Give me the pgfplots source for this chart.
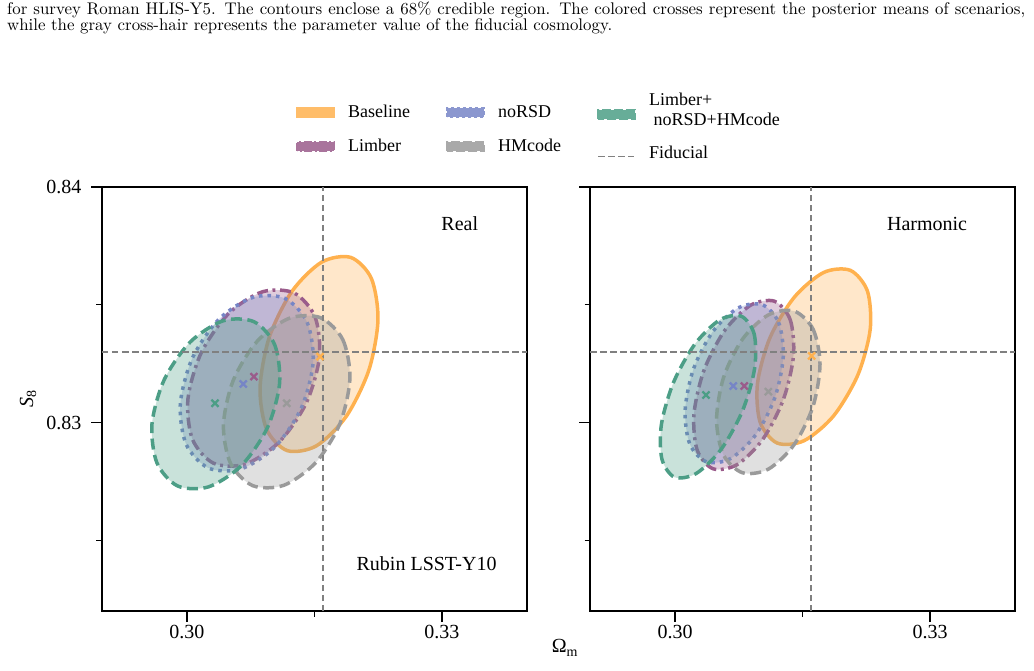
\documentclass[border=0pt]{standalone}
\usepackage{fontspec}
\usepackage{pgfplots}
\pgfplotsset{compat=1.18}
\newfontfamily\plotfont{Liberation Serif}
\newfontfamily\capfont{lmroman10-regular}[Extension=.otf]

\definecolor{cOrange}{HTML}{FFB14E}
\definecolor{cPurple}{HTML}{9A5B8B}
\definecolor{cBlue}{HTML}{7685C6}
\definecolor{cGray}{HTML}{9A9A9A}
\definecolor{cGreen}{HTML}{4C9E86}
\definecolor{cFid}{HTML}{808080}

\tikzset{annot/.style={font=\plotfont\fontsize{20}{24}\selectfont, inner sep=0pt}}

\pgfplotsset{
  panel/.style={
    width=425pt, height=424pt, scale only axis,
    xmin=0.29, xmax=0.34, ymin=0.822, ymax=0.84,
    xtick={0.30,0.33}, xticklabels={0.30,0.33}, minor xtick={0.315},
    ytick={0.83,0.84}, yticklabels={0.83,0.84}, minor ytick={0.825,0.835},
    tick align=outside, tick pos=left,
    major tick length=11pt, minor tick length=5.5pt,
    axis line style={line width=1.5pt},
    tick style={black, line width=1.3pt},
    ticklabel style={font=\plotfont\fontsize{20}{24}\selectfont},
    yticklabel style={xshift=-6pt},
  },
  contour/.style={smooth cycle, line width=3.5pt, fill opacity=0.3, forget plot},
  cBase/.style={contour, draw=cOrange, fill=cOrange},
  cLimb/.style={contour, draw=cPurple, fill=cPurple, dash pattern=on 11pt off 4.5pt on 3pt off 4.5pt},
  cNoRSD/.style={contour, draw=cBlue, fill=cBlue, dash pattern=on 3.5pt off 5pt},
  cHM/.style={contour, draw=cGray, fill=cGray, dash pattern=on 11pt off 5.5pt},
  cAll/.style={contour, draw=cGreen, fill=cGreen, dash pattern=on 11pt off 5.5pt},
  mean/.style={only marks, mark=x, mark size=5pt, line width=2.3pt, forget plot},
  fid/.style={cFid, line width=1.5pt, dash pattern=on 6.5pt off 3.5pt, forget plot},
}

\begin{document}
\begin{tikzpicture}
\useasboundingbox (0pt,0pt) rectangle (1034pt,-670pt);

% caption lines
\node[anchor=base west, inner sep=0pt] at (7pt,-14.5pt)
  {\capfont\fontsize{16.85}{16}\selectfont\makebox[1018pt][s]{for survey Roman HLIS-Y5. The contours enclose a 68\% credible region. The colored crosses represent the posterior means of scenarios,}};
\node[anchor=base west, inner sep=0pt] at (7pt,-30pt)
  {\capfont\fontsize{16.85}{16}\selectfont while the gray cross-hair represents the parameter value of the fiducial cosmology.};

% ---------------- Real space ----------------
\begin{axis}[panel, at={(102pt,-187pt)}, anchor=north west,
  ylabel={{\itshape S}\textsubscript{8}},
  ylabel style={at={(axis description cs:-0.174,0.5)}, anchor=center,
    font=\plotfont\fontsize{20}{24}\selectfont},
  xlabel={Ω\textsubscript{m}},
  xlabel style={at={(axis description cs:1.0894,-0.087)}, anchor=center,
    font=\plotfont\fontsize{20}{24}\selectfont},
  legend columns=3, legend cell align=left,
  legend style={at={(axis description cs:0.4565,1.1977)}, anchor=north west,
    draw=none, fill=none, inner sep=0pt,
    font=\plotfont\fontsize{18}{20}\selectfont,
    /tikz/every odd column/.append style={column sep=11pt},
    /tikz/every even column/.append style={column sep=34pt},
    /tikz/row sep=16pt},
]
\addplot[cBase] coordinates {(0.31927,0.83701) (0.32169,0.83612) (0.32247,0.83436) (0.32139,0.83222) (0.31873,0.83026) (0.31522,0.82901) (0.31179,0.82881) (0.30937,0.82971) (0.30859,0.83146) (0.30967,0.83361) (0.31233,0.83556) (0.31584,0.83681)};
\addplot[cLimb] coordinates {(0.31260,0.83550) (0.31506,0.83449) (0.31558,0.83278) (0.31403,0.83083) (0.31083,0.82917) (0.30682,0.82823) (0.30309,0.82828) (0.30064,0.82929) (0.30011,0.83100) (0.30166,0.83295) (0.30487,0.83462) (0.30887,0.83555)};
\addplot[cNoRSD] coordinates {(0.31153,0.83527) (0.31413,0.83426) (0.31484,0.83256) (0.31345,0.83062) (0.31034,0.82896) (0.30634,0.82803) (0.30252,0.82807) (0.29991,0.82907) (0.29921,0.83077) (0.30060,0.83271) (0.30371,0.83437) (0.30771,0.83531)};
\addplot[cHM] coordinates {(0.31572,0.83445) (0.31833,0.83352) (0.31917,0.83188) (0.31801,0.82997) (0.31517,0.82831) (0.31141,0.82734) (0.30774,0.82732) (0.30513,0.82826) (0.30429,0.82990) (0.30545,0.83180) (0.30828,0.83346) (0.31205,0.83443)};
\addplot[cAll] coordinates {(0.30789,0.83428) (0.31032,0.83330) (0.31089,0.83165) (0.30946,0.82978) (0.30639,0.82817) (0.30253,0.82727) (0.29889,0.82731) (0.29646,0.82829) (0.29588,0.82994) (0.29732,0.83182) (0.30038,0.83342) (0.30425,0.83432)};
% posterior means
\addplot[mean, cOrange] coordinates {(0.31565,0.83280)};
\addplot[mean, cPurple] coordinates {(0.30788,0.83195)};
\addplot[mean, cBlue]   coordinates {(0.30662,0.83164)};
\addplot[mean, cGray]   coordinates {(0.31173,0.83082)};
\addplot[mean, cGreen]  coordinates {(0.30329,0.83082)};
% fiducial cross-hair
\addplot[fid] coordinates {(0.3160,0.822) (0.3160,0.84)};
\addplot[fid] coordinates {(0.29,0.8330) (0.34,0.8330)};

\node[annot, anchor=base east] at (axis description cs:0.8854,0.8969) {Real};
\node[annot, anchor=base east] at (axis description cs:0.9287,0.0950) {Rubin LSST-Y10};

% legend
\addlegendimage{legend image code/.code={\draw[draw=cOrange!85!white, fill=cOrange!85!white, line width=2.5pt] (1.25pt,-4.25pt) rectangle (37.75pt,4.25pt);}}
\addlegendentry{Baseline}
\addlegendimage{legend image code/.code={\draw[draw=cBlue!85!white, fill=cBlue!85!white, line width=2.5pt, dash pattern=on 3.5pt off 2.5pt] (1.25pt,-4.25pt) rectangle (37.75pt,4.25pt);}}
\addlegendentry{noRSD}
\addlegendimage{legend image code/.code={\draw[draw=cGreen!85!white, fill=cGreen!85!white, line width=2.5pt, dash pattern=on 9pt off 3pt] (1.25pt,-6.25pt) rectangle (37.75pt,2.25pt);}}
\addlegendentry{\smash{\raisebox{6pt}{\begin{tabular}[t]{@{}l@{}}Limber+\\\ noRSD+HMcode\end{tabular}}}}
\addlegendimage{legend image code/.code={\draw[draw=cPurple!85!white, fill=cPurple!85!white, line width=2.5pt, dash pattern=on 8pt off 2.5pt on 2pt off 2.5pt] (1.25pt,-4.25pt) rectangle (37.75pt,4.25pt);}}
\addlegendentry{Limber}
\addlegendimage{legend image code/.code={\draw[draw=cGray!85!white, fill=cGray!85!white, line width=2.5pt, dash pattern=on 9pt off 3pt] (1.25pt,-4.25pt) rectangle (37.75pt,4.25pt);}}
\addlegendentry{HMcode}
\addlegendimage{legend image code/.code={\draw[cFid, line width=1.5pt, dash pattern=on 6.5pt off 3.5pt] (1pt,-10pt) -- (37pt,-10pt);}}
\addlegendentry{\smash{\raisebox{-13pt}{Fiducial}}}
\end{axis}

% ---------------- Harmonic space ----------------
\begin{axis}[panel, at={(590pt,-187pt)}, anchor=north west, yticklabels={,}]
\addplot[cBase] coordinates {(0.32064,0.83646) (0.32265,0.83557) (0.32296,0.83394) (0.32150,0.83201) (0.31865,0.83028) (0.31518,0.82923) (0.31202,0.82913) (0.31001,0.83002) (0.30970,0.83165) (0.31116,0.83359) (0.31401,0.83531) (0.31748,0.83637)};
\addplot[cLimb] coordinates {(0.31171,0.83515) (0.31356,0.83436) (0.31394,0.83284) (0.31275,0.83098) (0.31031,0.82928) (0.30728,0.82821) (0.30446,0.82804) (0.30261,0.82883) (0.30223,0.83036) (0.30341,0.83222) (0.30585,0.83391) (0.30889,0.83498)};
\addplot[cNoRSD] coordinates {(0.31023,0.83501) (0.31218,0.83426) (0.31274,0.83281) (0.31175,0.83106) (0.30948,0.82947) (0.30653,0.82847) (0.30371,0.82833) (0.30175,0.82908) (0.30119,0.83052) (0.30218,0.83228) (0.30445,0.83386) (0.30740,0.83486)};
\addplot[cHM] coordinates {(0.31403,0.83473) (0.31625,0.83396) (0.31706,0.83248) (0.31624,0.83069) (0.31401,0.82906) (0.31097,0.82802) (0.30793,0.82787) (0.30570,0.82863) (0.30489,0.83011) (0.30571,0.83191) (0.30794,0.83354) (0.31098,0.83457)};
\addplot[cAll] coordinates {(0.30782,0.83451) (0.30932,0.83375) (0.30936,0.83228) (0.30793,0.83049) (0.30542,0.82886) (0.30250,0.82784) (0.29994,0.82768) (0.29846,0.82845) (0.29840,0.82992) (0.29983,0.83171) (0.30234,0.83333) (0.30527,0.83436)};
% posterior means
\addplot[mean, cOrange] coordinates {(0.31608,0.83283)};
\addplot[mean, cPurple] coordinates {(0.30815,0.83155)};
\addplot[mean, cBlue]   coordinates {(0.30686,0.83155)};
\addplot[mean, cGray]   coordinates {(0.31098,0.83131)};
\addplot[mean, cGreen]  coordinates {(0.30365,0.83117)};
% fiducial cross-hair
\addplot[fid] coordinates {(0.3160,0.822) (0.3160,0.84)};
\addplot[fid] coordinates {(0.29,0.8330) (0.34,0.8330)};

\node[annot, anchor=base east] at (axis description cs:0.8878,0.8969) {Harmonic};
\end{axis}
\end{tikzpicture}
\end{document}
